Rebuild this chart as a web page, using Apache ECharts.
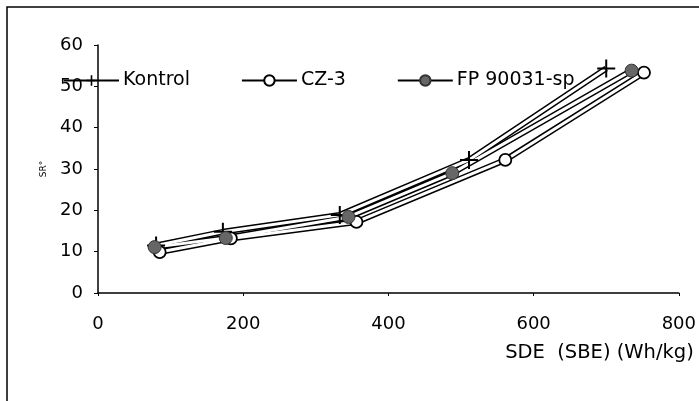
<!DOCTYPE html>
<html>
<head>
<meta charset="utf-8">
<script src="https://cdn.jsdelivr.net/npm/echarts@6/dist/echarts.min.js"></script>
<style>html,body{margin:0;padding:0;background:#fff}#c{width:699px;height:401px}</style>
</head>
<body>
<div id="c"></div>
<script>
const seriesNames = ['Kontrol', 'CZ-3', 'FP 90031-sp'];
const kontrolX = [80, 172, 333, 511, 700];
const kontrolY = [11.5, 14.8, 18.9, 32.2, 54.3];
const cz3X = [85, 183, 356, 561, 752];
const cz3Y = [9.9, 13.2, 17.2, 32.2, 53.3];
const fpX = [78, 176, 345, 488, 735];
const fpY = [11.1, 13.3, 18.4, 29.0, 53.8];
const xTicks = [0, 200, 400, 600, 800];
const yTicks = [0, 10, 20, 30, 40, 50, 60];

const FONT = 'DejaVu Sans';
const pairs = (xs, ys) => xs.map((x, i) => [x, ys[i]]);
const datasets = [pairs(kontrolX, kontrolY), pairs(cz3X, cz3Y), pairs(fpX, fpY)];
const plusPath = 'path://M0,10L20,10M10,0L10,20';
const markerStyles = [
  {symbol: plusPath, symbolSize: 18, itemStyle: {color: '#000', borderColor: '#000', borderWidth: 2}},
  {symbol: 'circle', symbolSize: 12, itemStyle: {color: '#fff', borderColor: '#000', borderWidth: 1.8}},
  {symbol: 'circle', symbolSize: 13, itemStyle: {color: '#666', borderColor: '#333', borderWidth: 1}}
];

const series = [];
datasets.forEach((d, i) => {
  series.push({type: 'line', name: 'o' + i, data: d, showSymbol: false, symbol: 'none', z: 2,
    lineStyle: {color: '#000', width: 6}, silent: true});
  series.push({type: 'line', name: 'i' + i, data: d, showSymbol: false, symbol: 'none', z: 3,
    lineStyle: {color: '#fff', width: 3}, silent: true});
});
datasets.forEach((d, i) => {
  series.push(Object.assign({type: 'line', name: seriesNames[i], data: d, z: 5,
    lineStyle: {width: 0, color: '#000'}}, markerStyles[i]));
});

const chart = echarts.init(document.getElementById('c'), null, {renderer: 'canvas'});
chart.setOption({
  animation: false,
  backgroundColor: '#fff',
  textStyle: {fontFamily: FONT},
  graphic: [{type: 'rect', shape: {x: 7, y: 7, width: 720, height: 420},
    style: {fill: 'none', stroke: '#000', lineWidth: 1.5}, z: 100}],
  legend: {
    data: seriesNames.map((n, i) => i === 0
      ? {name: n, itemStyle: {color: '#000', borderColor: '#000', borderWidth: 1.6, opacity: 1}}
      : {name: n}),
    left: 58, top: 66,
    itemWidth: 55, itemHeight: 13, itemGap: 51,
    textStyle: {fontFamily: FONT, fontSize: 19, color: '#000', padding: [0, 0, 0, -1]},
    lineStyle: {width: 2, color: '#000'}
  },
  grid: {left: 98, right: 16, top: 45, bottom: 108, containLabel: false},
  xAxis: {
    type: 'value', min: xTicks[0], max: xTicks[xTicks.length - 1], interval: 200,
    name: 'SDE  (SBE) (Wh/kg)', nameLocation: 'end', nameGap: 15,
    nameTextStyle: {fontFamily: FONT, fontSize: 19.5, color: '#000', align: 'right', verticalAlign: 'top', padding: [50, 0, 0, 0]},
    axisLine: {lineStyle: {color: '#000', width: 1.5}},
    axisTick: {show: true, length: 3, lineStyle: {color: '#000'}},
    axisLabel: {fontFamily: FONT, fontSize: 18, color: '#000', margin: 22},
    splitLine: {show: false}
  },
  yAxis: {
    type: 'value', min: yTicks[0], max: yTicks[yTicks.length - 1], interval: 10,
    name: 'SR°', nameLocation: 'middle', nameGap: 50, nameRotate: 90,
    nameTextStyle: {fontFamily: FONT, fontSize: 9, color: '#000'},
    axisLine: {show: true, lineStyle: {color: '#000', width: 1.5}},
    axisTick: {show: true, length: 4, lineStyle: {color: '#000'}},
    axisLabel: {fontFamily: FONT, fontSize: 18, color: '#000', margin: 15},
    splitLine: {show: false}
  },
  series: series
});
</script>
</body>
</html>
